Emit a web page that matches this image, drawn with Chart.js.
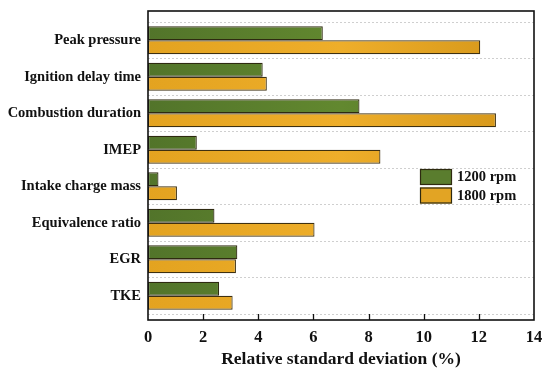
<html>
<head>
<meta charset="UTF-8">
<title>Relative standard deviation</title>
<style>
body {
    margin: 0;
    padding: 0;
    background: white;
}
#box {
    width: 550px;
    height: 377px;
}
</style>
<script src="https://cdn.jsdelivr.net/npm/chart.js@4.4.1/dist/chart.umd.min.js"></script>
</head>
<body>
<div id="box"><canvas id="canvas" width="550" height="377"></canvas></div>
</body>
<script>
const categories = ["Peak pressure", "Ignition delay time", "Combustion duration", "IMEP",
    "Intake charge mass", "Equivalence ratio", "EGR", "TKE"]
const rpm1200 = [6.34, 4.16, 7.67, 1.77, 0.38, 2.41, 3.24, 2.58]
const rpm1800 = [12.05, 4.31, 12.62, 8.43, 1.05, 6.04, 3.19, 3.07]
const xTicks = [0, 2, 4, 6, 8, 10, 12, 14]

const SERIF = "'Liberation Serif', 'Times New Roman', serif"

function fill(stops) {
    return (c) => {
        const area = c.chart.chartArea
        if (!area) return stops[0]
        const g = c.chart.ctx.createLinearGradient(area.left, 0, area.right, 0)
        g.addColorStop(0, stops[0])
        g.addColorStop(0.5, stops[1])
        g.addColorStop(1, stops[2])
        return g
    }
}

// frame around the plot, inward ticks, legend inside the plot
const frame = {
    id: "frame",
    afterDraw(chart) {
        const ctx = chart.ctx
        const a = chart.chartArea
        const x = chart.scales.x
        const top = a.top - 11, bottom = a.bottom + 6
        ctx.save()
        ctx.strokeStyle = "#111"
        ctx.lineWidth = 1.6
        ctx.strokeRect(a.left, top, a.right - a.left, bottom - top)
        ctx.beginPath()
        xTicks.slice(1, -1).forEach(v => {
            const px = Math.round(x.getPixelForValue(v)) + 0.5
            ctx.moveTo(px, bottom)
            ctx.lineTo(px, bottom - 6)
        })
        ctx.lineWidth = 1.3
        ctx.stroke()

        // legend
        const lx = a.right - 114, ly = 169
        ctx.font = "bold 14.5px " + SERIF
        ctx.textBaseline = "middle"
        chart.data.datasets.forEach((ds, i) => {
            const y = ly + i * 18.5
            ctx.fillStyle = ds.legendColor
            ctx.fillRect(lx, y, 32, 16)
            ctx.strokeStyle = "#2e2a10"
            ctx.lineWidth = 1.2
            ctx.strokeRect(lx + 0.5, y + 0.5, 31, 15)
            ctx.fillStyle = "#111"
            ctx.fillText(ds.label, lx + 37, y + 8.5)
        })
        ctx.restore()
    }
}

const ctx = document.getElementById("canvas").getContext("2d")
const chart = new Chart(ctx, {
    type: "bar",
    data: {
        labels: categories,
        datasets: [
            {
                label: "1200 rpm",
                data: rpm1200,
                backgroundColor: fill(["#52742a", "#62882f", "#52732a"]),
                legendColor: "#5a7d2e",
                borderColor: "#2e2a10",
                borderWidth: 1.2,
                borderSkipped: false,
            },
            {
                label: "1800 rpm",
                data: rpm1800,
                backgroundColor: fill(["#e3a320", "#eeae2a", "#d29418"]),
                legendColor: "#e2a424",
                borderColor: "#3e3010",
                borderWidth: 1.2,
                borderSkipped: false,
            },
        ],
    },
    options: {
        indexAxis: "y",
        responsive: false,
        animation: false,
        categoryPercentage: 0.77,
        barPercentage: 1.0,
        layout: {padding: {top: 22, right: 16, left: 0, bottom: 7}},
        plugins: {legend: {display: false}, tooltip: {enabled: false}},
        scales: {
            x: {
                min: 0,
                max: 14,
                ticks: {
                    stepSize: 2,
                    padding: 6,
                    color: "#111",
                    font: {family: SERIF, size: 16.5, weight: "bold"},
                },
                grid: {display: false},
                border: {display: false},
                title: {
                    display: true,
                    text: "Relative standard deviation (%)",
                    color: "#111",
                    font: {family: SERIF, size: 17.5, weight: "bold"},
                    padding: {top: 4, bottom: 0},
                },
                afterFit: (s) => { s.height = 56 },
            },
            y: {
                ticks: {
                    padding: 7,
                    color: "#111",
                    font: {family: SERIF, size: 14.5, weight: "bold"},
                },
                grid: {
                    offset: true,
                    color: "#cfcfcf",
                    lineWidth: 1,
                    drawTicks: false,
                },
                border: {display: false, dash: [2, 2]},
                afterFit: (s) => { s.width = 148 },
            },
        },
    },
    plugins: [frame],
})
</script>
</html>
